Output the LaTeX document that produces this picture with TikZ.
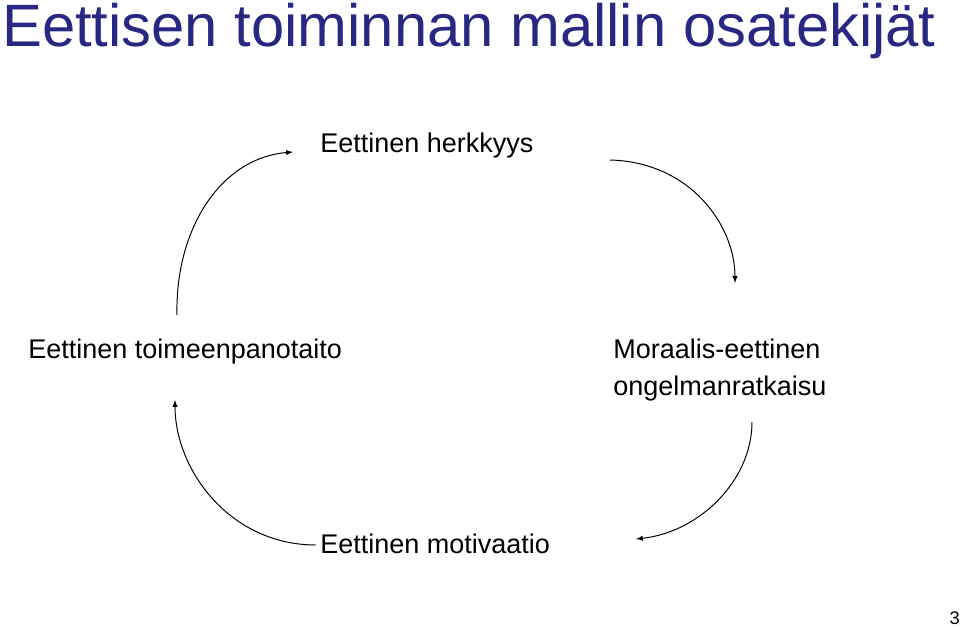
\documentclass[tikz,border=0pt]{standalone}
\usepackage{fontspec}
\setmainfont{Liberation Sans}
\definecolor{titleblue}{RGB}{40,40,130}
\begin{document}
\begin{tikzpicture}[x=0.025cm,y=-0.025cm]
  \tikzstyle{lbl}=[anchor=base west,inner sep=0pt,font=\fontsize{19.2}{27}\selectfont]
  \tikzstyle{arc}=[->,>=latex,line width=0.7pt]
  \useasboundingbox (0,0) rectangle (960,626);
  \node[anchor=base west,inner sep=0pt,text=titleblue,font=\fontsize{42.5}{48}\selectfont] (title) at (2,46) {Eettisen toiminnan mallin osatekijät};
  \node[lbl] (herk) at (320,152) {Eettinen herkkyys};
  \node[lbl] (toim) at (28,358) {Eettinen toimeenpanotaito};
  \node[lbl,align=left,text width=9cm] (mora) at (613,358) {Moraalis-eettinen\\ongelmanratkaisu};
  \node[lbl] (moti) at (320,553) {Eettinen motivaatio};
  \node[anchor=base east,inner sep=0pt,font=\fontsize{13}{15}\selectfont] (page) at (960,624) {3};
  % connectors
  \coordinate (a1) at (177,315); \coordinate (a2) at (293,152);
  \coordinate (b1) at (610,160); \coordinate (b2) at (735,283);
  \coordinate (c1) at (752,422); \coordinate (c2) at (636,539);
  \coordinate (d1) at (316,545); \coordinate (d2) at (175,400);
  \draw[arc] (a1) .. controls (175,230) and (220,158) .. (a2);
  \draw[arc] (b1) .. controls (690,162) and (735,225) .. (b2);
  \draw[arc] (c1) .. controls (752,480) and (700,532) .. (c2);
  \draw[arc] (d1) .. controls (230,545) and (175,470) .. (d2);
\end{tikzpicture}
\end{document}
